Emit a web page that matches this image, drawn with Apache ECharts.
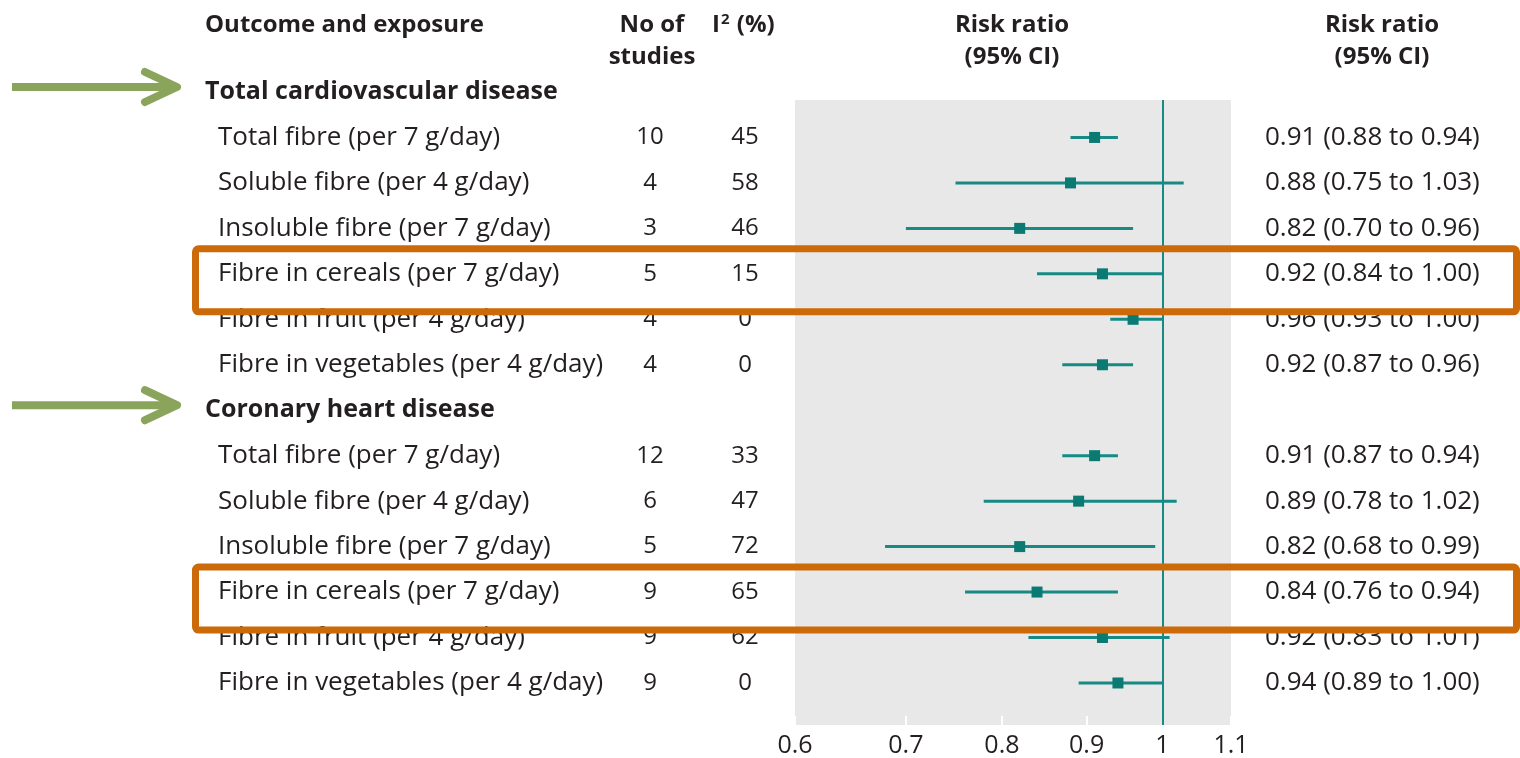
<!DOCTYPE html>
<html>
<head>
<meta charset="utf-8">
<script src="https://cdn.jsdelivr.net/npm/echarts@6/dist/echarts.min.js"></script>
<style>
html,body{margin:0;padding:0;background:#fff;}
#chart{width:1520px;height:758px;}
</style>
</head>
<body>
<div id="chart"></div>
<script>
// ---- data ----
const rowLabels = [
  'Total cardiovascular disease',
  'Total fibre (per 7 g/day)',
  'Soluble fibre (per 4 g/day)',
  'Insoluble fibre (per 7 g/day)',
  'Fibre in cereals (per 7 g/day)',
  'Fibre in fruit (per 4 g/day)',
  'Fibre in vegetables (per 4 g/day)',
  'Coronary heart disease',
  'Total fibre (per 7 g/day)',
  'Soluble fibre (per 4 g/day)',
  'Insoluble fibre (per 7 g/day)',
  'Fibre in cereals (per 7 g/day)',
  'Fibre in fruit (per 4 g/day)',
  'Fibre in vegetables (per 4 g/day)'
];
const studies = [null, 10, 4, 3, 5, 4, 4, null, 12, 6, 5, 9, 9, 9];
const i2      = [null, 45, 58, 46, 15, 0, 0, null, 33, 47, 72, 65, 62, 0];
const rr      = [null, 0.91, 0.88, 0.82, 0.92, 0.96, 0.92, null, 0.91, 0.89, 0.82, 0.84, 0.92, 0.94];
const lower   = [null, 0.88, 0.75, 0.70, 0.84, 0.93, 0.87, null, 0.87, 0.78, 0.68, 0.76, 0.83, 0.89];
const upper   = [null, 0.94, 1.03, 0.96, 1.00, 1.00, 0.96, null, 0.94, 1.02, 0.99, 0.94, 1.01, 1.00];
const xTicks  = [0.6, 0.7, 0.8, 0.9, 1, 1.1];
const highlightRows = [4, 11];
const arrowRows = [0, 7];

// ---- layout ----
const FONT = '"Open Sans", "Noto Sans", sans-serif';
const TXT = '#231f20';
const BODY = 26, HEAD = 25, TOPHEAD = 24;
const rowH = 45.46, row0Y = 92, plotTop = 100, plotBottom = 725;
const nRows = rowLabels.length;
const textTop = row0Y - rowH / 2;
const textBottom = 758 - (textTop + rowH * nRows);

const lnTicks = xTicks.map(v => Math.log(v));
function tickLabel(v) {
  let best = 0, bd = Infinity;
  lnTicks.forEach((t, i) => { const d = Math.abs(t - v); if (d < bd) { bd = d; best = i; } });
  return String(xTicks[best]);
}

const forestData = [];
rr.forEach((v, i) => {
  if (v != null) forestData.push([Math.log(v), Math.log(lower[i]), Math.log(upper[i]), i]);
});

const cats = rowLabels.map((_, i) => String(i));

const chart = echarts.init(document.getElementById('chart'), null, {renderer: 'canvas'});

function hdr(text, x, y, align) {
  return {type: 'text', x: x, y: y, z: 50,
          style: {text: text, font: 'bold ' + TOPHEAD + 'px ' + FONT, fill: TXT,
                  align: align || 'center', verticalAlign: 'middle'}};
}

const option = {
  animation: false,
  backgroundColor: '#fff',
  textStyle: {fontFamily: FONT, color: TXT},
  grid: [
    {left: 795, right: 1520 - 1231, top: plotTop, bottom: 758 - plotBottom,
     show: true, backgroundColor: '#e8e8e8', borderWidth: 0},
    {left: 205, right: 1520 - 1255, top: textTop, bottom: textBottom, show: false}
  ],
  xAxis: [
    {gridIndex: 0, type: 'value', min: Math.log(xTicks[0]), max: Math.log(xTicks[xTicks.length - 1]),
     axisLine: {show: false}, splitLine: {show: false},
     axisTick: {show: true, inside: true, length: 9, customValues: lnTicks,
                lineStyle: {color: '#ffffff', width: 2}},
     axisLabel: {customValues: lnTicks, formatter: tickLabel, margin: 8,
                 fontSize: 25, color: TXT, fontFamily: FONT}},
    {gridIndex: 1, type: 'value', show: false, min: 0, max: 1}
  ],
  yAxis: [
    {gridIndex: 0, type: 'value', inverse: true,
     min: (plotTop - row0Y) / rowH, max: (plotBottom - row0Y) / rowH,
     show: false, splitLine: {show: false}},
    {gridIndex: 1, type: 'category', inverse: true, data: cats, position: 'left',
     axisLine: {show: false}, axisTick: {show: false}, splitLine: {show: false},
     axisLabel: {
       inside: true, margin: 0, align: 'left', interval: 0,
       fontFamily: FONT, fontSize: BODY, color: TXT,
       formatter: (val) => {
         const i = +val;
         if (studies[i] == null) return '{h|' + rowLabels[i] + '}';
         return '{nm|' + rowLabels[i] + '}{n|' + studies[i] + '}{q|' + i2[i] + '}';
       },
       rich: {
         h:  {fontFamily: FONT, fontSize: HEAD, fontWeight: 'bold', color: TXT},
         nm: {fontFamily: FONT, fontSize: BODY, color: TXT, width: 410, align: 'left', padding: [0, 0, 0, 13]},
         n:  {fontFamily: FONT, fontSize: BODY - 2, color: TXT, width: 44, align: 'center'},
         q:  {fontFamily: FONT, fontSize: BODY - 2, color: TXT, width: 146, align: 'center'}
       }
     }},
    {gridIndex: 1, type: 'category', inverse: true, data: cats, position: 'right',
     axisLine: {show: false}, axisTick: {show: false}, splitLine: {show: false},
     axisLabel: {
       margin: 10, align: 'left', interval: 0,
       fontFamily: FONT, fontSize: BODY, color: TXT,
       formatter: (val) => {
         const i = +val;
         if (rr[i] == null) return '';
         return rr[i].toFixed(2) + ' (' + lower[i].toFixed(2) + ' to ' + upper[i].toFixed(2) + ')';
       }
     }}
  ],
  series: [
    {
      type: 'custom', xAxisIndex: 0, yAxisIndex: 0, data: forestData, z: 5,
      renderItem: (params, api) => {
        const y = api.value(3);
        const pLo = api.coord([api.value(1), y]);
        const pHi = api.coord([api.value(2), y]);
        const pE = api.coord([api.value(0), y]);
        return {type: 'group', children: [
          {type: 'line', shape: {x1: pLo[0], y1: pLo[1], x2: pHi[0], y2: pHi[1]},
           style: {stroke: '#178a85', lineWidth: 3}},
          {type: 'rect', shape: {x: pE[0] - 5.5, y: pE[1] - 5.5, width: 11, height: 11},
           style: {fill: '#0b7a73'}}
        ]};
      },
      markLine: {
        silent: true, symbol: ['none', 'none'], label: {show: false},
        lineStyle: {color: '#178a85', width: 2, type: 'solid'},
        data: [{xAxis: Math.log(1)}]
      }
    },
    {type: 'line', xAxisIndex: 1, yAxisIndex: 1, data: [], silent: true}
  ],
  graphic: [
    hdr('Outcome and exposure', 205, 25, 'left'),
    hdr('No of', 652, 25),
    hdr('studies', 652, 57),
    {type: 'text', x: 712, y: 25, z: 50,
     style: {text: 'I{s|2} (%)', font: 'bold ' + TOPHEAD + 'px ' + FONT, fill: TXT, verticalAlign: 'middle',
      rich: {s: {font: 'bold 15px ' + FONT, fill: TXT, verticalAlign: 'top', padding: [0, 1, 10, 1]}}}},
    hdr('Risk ratio', 1012, 25),
    hdr('(95% CI)', 1012, 57),
    hdr('Risk ratio', 1382, 25),
    hdr('(95% CI)', 1382, 57)
  ]
};
chart.setOption(option);

// annotations positioned from the row scale
const extra = [];
highlightRows.forEach(r => {
  const y = chart.convertToPixel({yAxisIndex: 0}, r);
  extra.push({type: 'rect', z: 100, shape: {x: 195.5, y: y - 25, width: 1321, height: 63, r: 3},
              style: {fill: 'none', stroke: '#cc6a0a', lineWidth: 7}});
});
arrowRows.forEach(r => {
  const y = chart.convertToPixel({yAxisIndex: 0}, r) - 5;
  extra.push({type: 'line', z: 100, shape: {x1: 12, y1: y, x2: 172, y2: y},
              style: {stroke: '#8aa55b', lineWidth: 8}});
  extra.push({type: 'polyline', z: 100, shape: {points: [[145, y - 15], [177, y], [145, y + 15]]},
              style: {stroke: '#8aa55b', lineWidth: 8, lineCap: 'round', lineJoin: 'round', fill: 'none'}});
});
chart.setOption({graphic: option.graphic.concat(extra)});
</script>
</body>
</html>
